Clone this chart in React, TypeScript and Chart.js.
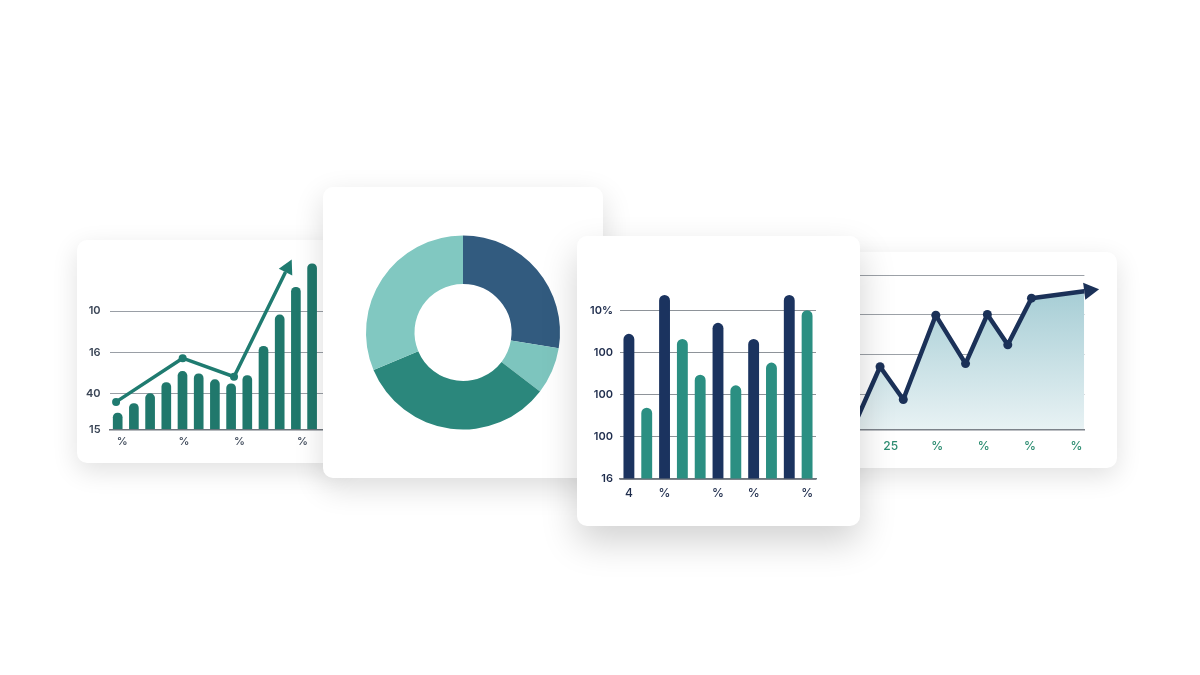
import React, { useEffect, useRef } from "react";
import { Chart, registerables } from "chart.js";

Chart.register(...registerables);

// ---------- Card 1: bars with trend arrow ----------
const c1Bars = [0.4, 0.63, 0.87, 1.14, 1.41, 1.35, 1.21, 1.11, 1.31, 2.02, 2.78, 3.45, 4.02];
const c1TrendX = [-0.1, 4.01, 7.18, 10.36];
const c1TrendY = [0.67, 1.73, 1.28, 3.82];
const c1YTicks = [0, 0.875, 1.875, 2.875];
const c1YLabels = ["15", "40", "16", "10"];
const c1XTicks = [0.28, 4.09, 7.51, 11.4];
const c1XLabels = ["%", "%", "%", "%"];

// ---------- Card 2: doughnut ----------
const c2Segments = ["A", "B", "C", "D"];
const c2Values = [27.6, 7.8, 33.3, 31.3];
const c2Colors = ["#325b7f", "#7dc5be", "#2b877c", "#81c8c1"];

// ---------- Card 3: two-colour bars ----------
const c3Categories = ["4", "", "%", "", "", "%", "", "%", "", "", "%"];
const c3Values = [3.44, 1.69, 4.36, 3.32, 2.47, 3.7, 2.22, 3.32, 2.76, 4.36, 4.0];
const c3Series = ["navy", "teal", "navy", "teal", "teal", "navy", "teal", "navy", "teal", "navy", "teal"];
const c3YTicks = [0, 1, 2, 3, 4];
const c3YLabels = ["16", "100", "100", "100", "10%"];

// ---------- Card 4: area line with arrow ----------
const c4X = [-0.77, -0.23, 0.27, 0.97, 1.61, 2.08, 2.52, 3.03, 4.166];
const c4Y = [0.28, 1.7, 0.88, 2.99, 1.78, 3.01, 2.25, 3.42, 3.592];
const c4XTicks = [0, 1, 2, 3, 4];
const c4XLabels = ["25", "%", "%", "%", "%"];
const c4YTicks = [1, 2, 3, 4];

const FONT = "Inter, 'Liberation Sans', Arial, sans-serif";
const NAVY = "#1b335f";
const TEAL = "#2b8f82";

const arrowPlugin = {
  id: "arrowHead",
  afterDatasetsDraw(chart: any) {
    chart.data.datasets.forEach((ds: any, i: number) => {
      const opt = ds.arrow;
      if (!opt) return;
      const pts = chart.getDatasetMeta(i).data;
      const n = pts.length;
      if (n < 2) return;
      const a = pts[n - 2];
      const b = pts[n - 1];
      const ang = Math.atan2(b.y - a.y, b.x - a.x);
      const ctx = chart.ctx;
      ctx.save();
      ctx.translate(b.x, b.y);
      ctx.rotate(ang);
      ctx.beginPath();
      ctx.moveTo(opt.len, 0);
      ctx.lineTo(0, -opt.half);
      ctx.lineTo(0, opt.half);
      ctx.closePath();
      ctx.fillStyle = ds.borderColor;
      ctx.fill();
      ctx.restore();
    });
  },
};

const baseOptions = {
  animation: false,
  responsive: false,
  events: [],
  plugins: { legend: { display: false }, tooltip: { enabled: false } },
};

function card1Config(): any {
  return {
    type: "bar",
    data: {
      datasets: [
        {
          type: "line",
          data: c1TrendX.map((x, i) => ({ x, y: c1TrendY[i] })),
          borderColor: "#1f7b70",
          borderWidth: 3.5,
          pointRadius: [4, 4, 4, 0],
          pointBackgroundColor: "#1f7b70",
          pointBorderWidth: 0,
          tension: 0,
          clip: false,
          arrow: { len: 14, half: 7.5 },
          order: 0,
        },
        {
          type: "bar",
          data: c1Bars.map((y, i) => ({ x: i, y })),
          backgroundColor: "#20786c",
          barThickness: 9,
          borderRadius: 5,
          order: 1,
        },
      ],
    },
    options: {
      ...baseOptions,
      layout: { padding: { top: 14, left: 0, right: 8.6, bottom: 0 } },
      scales: {
        x: {
          type: "linear",
          position: "bottom",
          offset: false,
          min: -0.5,
          max: 13.5,
          afterBuildTicks: (s: any) => {
            s.ticks = c1XTicks.map((v) => ({ value: v }));
          },
          afterFit: (s: any) => {
            s.height = 33.5;
          },
          ticks: {
            callback: (_v: any, i: number) => c1XLabels[i],
            color: "#3a4556",
            font: { family: FONT, size: 11, weight: "500" },
            padding: 6,
            autoSkip: false,
            maxRotation: 0,
          },
          grid: { display: false, drawTicks: false, offset: false },
          border: { display: true, color: "#6f757d", width: 1.5 },
        },
        y: {
          min: 0,
          max: 4.22,
          afterBuildTicks: (s: any) => {
            s.ticks = c1YTicks.map((v) => ({ value: v }));
          },
          afterFit: (s: any) => {
            s.width = 32.6;
          },
          ticks: {
            callback: (_v: any, i: number) => c1YLabels[i],
            color: "#3a4556",
            font: { family: FONT, size: 11, weight: "600" },
            padding: 9,
          },
          grid: { color: "#9a9fa6", lineWidth: 1, drawTicks: false },
          border: { display: false },
        },
      },
    },
    plugins: [arrowPlugin],
  };
}

function card2Config(): any {
  return {
    type: "doughnut",
    data: {
      labels: c2Segments,
      datasets: [{ data: c2Values, backgroundColor: c2Colors, borderWidth: 0 }],
    },
    options: {
      ...baseOptions,
      cutout: "50%",
      rotation: 0,
      layout: { padding: { left: 43, right: 43, top: 48.5, bottom: 48.5 } },
    },
  };
}

function card3Config(): any {
  return {
    type: "bar",
    data: {
      labels: c3Categories,
      datasets: [
        {
          data: c3Values,
          backgroundColor: c3Series.map((s) => (s === "navy" ? NAVY : TEAL)),
          barPercentage: 0.61,
          categoryPercentage: 1,
          borderRadius: 6,
        },
      ],
    },
    options: {
      ...baseOptions,
      layout: { padding: { top: 51, left: 0, right: 44, bottom: 0 } },
      scales: {
        x: {
          grid: { display: false, drawTicks: false },
          border: { color: "#6f757d", width: 1.5 },
          afterFit: (s: any) => {
            s.height = 47;
          },
          ticks: {
            color: "#1e2c4c",
            font: { family: FONT, size: 12, weight: "500" },
            padding: 7,
            autoSkip: false,
            maxRotation: 0,
          },
        },
        y: {
          min: 0,
          max: 4.55,
          afterBuildTicks: (s: any) => {
            s.ticks = c3YTicks.map((v) => ({ value: v }));
          },
          afterFit: (s: any) => {
            s.width = 43;
          },
          ticks: {
            callback: (_v: any, i: number) => c3YLabels[i],
            color: "#1e2c4c",
            font: { family: FONT, size: 11, weight: "600" },
            padding: 7,
          },
          grid: { color: "#8e9399", lineWidth: 1, drawTicks: false },
          border: { display: false },
        },
      },
    },
  };
}

function card4Config(): any {
  return {
    type: "line",
    data: {
      datasets: [
        {
          data: c4X.map((x, i) => ({ x, y: c4Y[i] })),
          borderColor: "#1b3158",
          borderWidth: 4.5,
          borderJoinStyle: "round",
          pointRadius: [0, 4.5, 4.5, 4.5, 4.5, 4.5, 4.5, 4.5, 0],
          pointBackgroundColor: "#1b3158",
          pointBorderWidth: 0,
          tension: 0,
          clip: false,
          fill: "start",
          backgroundColor: (ctx: any) => {
            const area = ctx.chart.chartArea;
            if (!area) return "rgba(160,200,208,0.6)";
            const g = ctx.chart.ctx.createLinearGradient(0, area.top + 20, 0, area.bottom);
            g.addColorStop(0, "#a2cbd3");
            g.addColorStop(1, "#e8f2f4");
            return g;
          },
          arrow: { len: 15, half: 8.5 },
        },
      ],
    },
    options: {
      ...baseOptions,
      layout: { padding: { top: 10, left: 25, right: 32.6, bottom: 0 } },
      scales: {
        x: {
          type: "linear",
          offset: false,
          min: -0.77,
          max: 4.17,
          afterBuildTicks: (s: any) => {
            s.ticks = c4XTicks.map((v) => ({ value: v }));
          },
          afterFit: (s: any) => {
            s.height = 38.7;
          },
          ticks: {
            callback: (_v: any, i: number) => c4XLabels[i],
            color: "#2b8c70",
            font: { family: FONT, size: 12, weight: "500" },
            padding: 10,
            autoSkip: false,
            maxRotation: 0,
          },
          grid: { display: false, drawTicks: false },
          border: { display: true, color: "#7a8088", width: 1.5 },
        },
        y: {
          min: 0.133,
          max: 4.326,
          afterBuildTicks: (s: any) => {
            s.ticks = c4YTicks.map((v) => ({ value: v }));
          },
          afterFit: (s: any) => {
            s.width = 0;
          },
          ticks: { display: false },
          grid: { color: "#9ca1a7", lineWidth: 1, drawTicks: false },
          border: { display: false },
        },
      },
    },
    plugins: [arrowPlugin],
  };
}

type CardProps = {
  left: number;
  top: number;
  width: number;
  height: number;
  z: number;
  shadow: string;
  makeConfig: () => any;
};

function ChartCard({ left, top, width, height, z, shadow, makeConfig }: CardProps) {
  const ref = useRef<HTMLCanvasElement>(null);
  useEffect(() => {
    if (!ref.current) return;
    const chart = new Chart(ref.current, makeConfig());
    return () => chart.destroy();
  }, []);
  return (
    <div
      style={{
        position: "absolute",
        left,
        top,
        width,
        height,
        background: "#ffffff",
        borderRadius: 10,
        boxShadow: shadow,
        zIndex: z,
        overflow: "hidden",
      }}
    >
      <canvas ref={ref} width={width} height={height} style={{ display: "block", width, height }} />
    </div>
  );
}

export default function App() {
  return (
    <div
      style={{
        position: "fixed",
        left: 0,
        top: 0,
        width: 1200,
        height: 675,
        background: "#ffffff",
        overflow: "hidden",
      }}
    >
      <ChartCard
        left={77}
        top={240}
        width={268}
        height={223}
        z={1}
        shadow="0 8px 26px rgba(0,0,0,0.12)"
        makeConfig={card1Config}
      />
      <ChartCard
        left={830}
        top={252}
        width={287}
        height={216}
        z={1}
        shadow="0 8px 26px rgba(0,0,0,0.12)"
        makeConfig={card4Config}
      />
      <ChartCard
        left={323}
        top={187}
        width={280}
        height={291}
        z={2}
        shadow="0 10px 30px rgba(0,0,0,0.14)"
        makeConfig={card2Config}
      />
      <ChartCard
        left={577}
        top={236}
        width={283}
        height={290}
        z={3}
        shadow="0 16px 36px rgba(0,0,0,0.18)"
        makeConfig={card3Config}
      />
    </div>
  );
}
